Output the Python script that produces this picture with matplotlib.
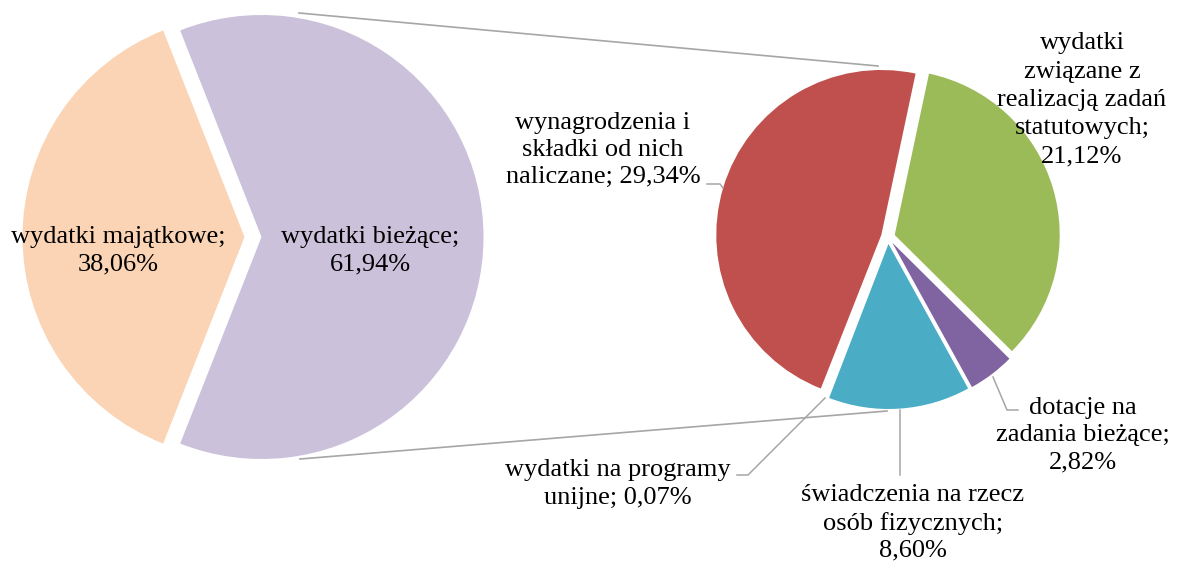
import matplotlib.pyplot as plt
import matplotlib
matplotlib.rcParams['font.family'] = ['Liberation Serif', 'DejaVu Serif']

W, H = 1180, 568   # rozmiar w pikselach (dpi=100)

# ================================================================
# DANE
# ================================================================
kat_glowne = ["wydatki majątkowe", "wydatki bieżące"]
udz_glowne = [38.06, 61.94]
kol_glowne = ["#FAD4B4", "#CCC1DA"]

# rozbicie wydatków bieżących (kolejność zgodnie z ruchem wskazówek zegara)
kat_biez = ["wydatki związane z realizacją zadań statutowych",
            "dotacje na zadania bieżące",
            "świadczenia na rzecz osób fizycznych",
            "wydatki na programy unijne",
            "wynagrodzenia i składki od nich naliczane"]
udz_biez = [21.12, 2.82, 8.60, 0.07, 29.34]
# wycinek 0,07% ginie w przerwie między wycinkami -> biały
kol_biez = ["#9BBB59", "#8064A2", "#4BACC6", "white", "#C0504D"]


def pct(v):
    return f"{v:.2f}%".replace(".", ",")


def Y(y):
    # współrzędna y liczona od góry obrazka
    return H - y


fig = plt.figure(figsize=(W / 100, H / 100), dpi=100)
ax = fig.add_axes([0, 0, 1, 1])

# ── lewy wykres (explode w jednostkach danych = piksele) ──────
ax.pie(udz_glowne, colors=kol_glowne,
       startangle=180 - udz_glowne[0] * 1.8, counterclock=True,
       explode=[8.5, 8.5], radius=222, center=(253, Y(237)),
       frame=True, wedgeprops=dict(linewidth=0))

# ── prawy wykres ──────────────────────────────────────────────
ax.pie(udz_biez, colors=kol_biez, startangle=78, counterclock=False,
       explode=[7] * len(udz_biez), radius=165, center=(888, Y(237)),
       frame=True, wedgeprops=dict(linewidth=0))

# linie łączące
szary = "#A6A6A6"
ax.plot([299, 878], [Y(13), Y(66)], color=szary, lw=1.2)
ax.plot([300, 887], [Y(459), Y(411)], color=szary, lw=1.2)

# linie odniesienia etykiet
ax.plot([707, 720, 723], [Y(184), Y(184), Y(188)], color=szary, lw=1.1)
ax.plot([993, 1007, 1018], [Y(377), Y(410), Y(410)], color=szary, lw=1.1)
ax.plot([900, 900], [Y(410), Y(475)], color=szary, lw=1.1)
ax.plot([825, 748, 737], [Y(398), Y(475), Y(475)], color=szary, lw=1.1)

# ── etykiety ──────────────────────────────────────────────────
fs = 19
tk = dict(ha="center", va="center", fontsize=fs, color="black")

ax.text(118, Y(251), f"{kat_glowne[0]};\n{pct(udz_glowne[0])}",
        linespacing=1.3, **tk)
ax.text(370, Y(251), f"{kat_glowne[1]};\n{pct(udz_glowne[1])}",
        linespacing=1.3, **tk)

ax.text(1082, Y(100),
        f"wydatki\nzwiązane z\nrealizacją zadań\nstatutowych;\n{pct(udz_biez[0])}",
        linespacing=1.38, **tk)
ax.text(1083, Y(435), f"dotacje na\nzadania bieżące;\n{pct(udz_biez[1])}",
        linespacing=1.3, **tk)
ax.text(913, Y(523),
        f"świadczenia na rzecz\nosób fizycznych;\n{pct(udz_biez[2])}",
        linespacing=1.3, **tk)
ax.text(618, Y(484), f"wydatki na programy\nunijne; {pct(udz_biez[3])}",
        linespacing=1.3, **tk)
ax.text(603, Y(150),
        f"wynagrodzenia i\nskładki od nich\nnaliczane; {pct(udz_biez[4])}",
        linespacing=1.3, **tk)

ax.set_xlim(0, W)
ax.set_ylim(0, H)
ax.axis("off")

fig.savefig("out.png", dpi=100)
